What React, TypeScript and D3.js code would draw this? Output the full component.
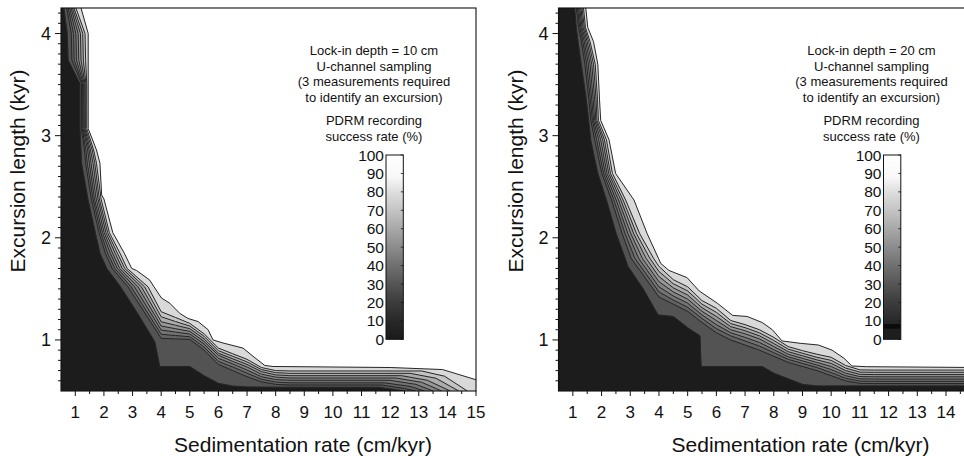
import React from 'react';
import * as d3 from 'd3';

const W = 964;
const H = 456;
const FONT = '"Liberation Sans", Arial, Helvetica, sans-serif';

// ---- axis ticks ----
const sedTicks = [1, 2, 3, 4, 5, 6, 7, 8, 9, 10, 11, 12, 13, 14, 15];
const sedMinorTicks = [1.5, 2.5, 3.5, 4.5, 5.5, 6.5, 7.5, 8.5, 9.5, 10.5, 11.5, 12.5, 13.5, 14.5];
const lengthTicks = [1, 2, 3, 4];
const lengthMinorTicks = [0.6, 0.7, 0.8, 0.9, 1.1, 1.2, 1.3, 1.4, 1.5, 1.6, 1.7, 1.8, 1.9, 2.1, 2.2, 2.3, 2.4, 2.5, 2.6, 2.7, 2.8, 2.9, 3.1, 3.2, 3.3, 3.4, 3.5, 3.6, 3.7, 3.8, 3.9, 4.1, 4.2];
const colorbarTicks = [0, 10, 20, 30, 40, 50, 60, 70, 80, 90, 100];

// ---- contour levels and fill grays (fill below each level) ----
const levels = [10, 20, 30, 40, 50, 60, 70, 80, 90];
const bandGrays = ['#1c1c1c', '#535353', '#636363', '#737373', '#848484', '#979797', '#acacac', '#c3c3c3', '#d9d9d9'];

// ---- colorbar stops [value, gray] ----
const leftColorStops: [number, string][] = [[0, '#1a1a1a'], [10, '#282828'], [20, '#3c3c3c'], [30, '#555555'], [40, '#707070'], [50, '#8c8c8c'], [60, '#a8a8a8'], [70, '#c4c4c4'], [80, '#dedede'], [88, '#f8f8f8'], [100, '#ffffff']];
const rightColorStops: [number, string][] = [[0, '#1e1e1e'], [5.5, '#1e1e1e'], [6, '#0b0b0b'], [8, '#0b0b0b'], [8.6, '#262626'], [20, '#3c3c3c'], [30, '#555555'], [40, '#707070'], [50, '#8c8c8c'], [60, '#a8a8a8'], [70, '#c4c4c4'], [80, '#dedede'], [88, '#f8f8f8'], [100, '#ffffff']];

// ---- texts ----
const leftLegend = ['Lock-in depth = 10 cm', 'U-channel sampling', '(3 measurements required', 'to identify an excursion)'];
const rightLegend = ['Lock-in depth = 20 cm', 'U-channel sampling', '(3 measurements required', 'to identify an excursion)'];
const colorbarTitle = ['PDRM recording', 'success rate (%)'];
const xTitle = 'Sedimentation rate (cm/kyr)';
const yTitle = 'Excursion length (kyr)';

// ---- left panel contour lines [sed rate, excursion length] ----
const left10 = [[0.60, 4.25], [0.72, 4.00], [0.75, 3.74], [1.16, 3.51], [1.16, 3.07], [1.20, 2.86], [1.22, 2.73], [1.44, 2.38], [1.70, 2.05], [1.86, 1.85], [2.10, 1.70], [2.58, 1.52], [3.20, 1.25], [3.78, 0.98], [3.95, 0.74], [5.00, 0.74], [5.50, 0.65], [6.00, 0.575], [6.50, 0.548], [7.00, 0.54], [8.00, 0.537], [11.6, 0.536], [12.5, 0.5]];
const left20 = [[0.70, 4.25], [0.86, 4.00], [0.88, 3.74], [1.22, 3.51], [1.21, 3.07], [1.32, 2.86], [1.36, 2.73], [1.56, 2.38], [1.83, 2.05], [2.05, 1.85], [2.29, 1.70], [2.84, 1.52], [4.0, 1.016], [4.5, 1.01], [5.0, 1.005], [5.5, 0.90], [6.0, 0.76], [6.5, 0.70], [7.0, 0.64], [7.5, 0.59], [8.0, 0.565], [8.5, 0.559], [11.7, 0.559], [12.5, 0.525], [12.9, 0.5]];
const left30 = [[0.75, 4.25], [0.94, 4.00], [0.96, 3.74], [1.25, 3.51], [1.24, 3.07], [1.37, 2.86], [1.42, 2.73], [1.62, 2.38], [1.89, 2.05], [2.13, 1.85], [2.38, 1.70], [2.95, 1.52], [4.0, 1.055], [4.5, 1.043], [5.0, 1.031], [5.5, 0.93], [6.0, 0.79], [6.5, 0.735], [7.0, 0.675], [7.5, 0.615], [8.0, 0.588], [8.5, 0.58], [11.8, 0.58], [12.7, 0.545], [13.2, 0.5]];
const left40 = [[0.80, 4.25], [1.02, 4.00], [1.04, 3.74], [1.28, 3.51], [1.27, 3.07], [1.43, 2.86], [1.49, 2.73], [1.67, 2.38], [1.95, 2.05], [2.22, 1.85], [2.47, 1.70], [3.07, 1.52], [4.0, 1.097], [4.5, 1.077], [5.0, 1.058], [5.5, 0.96], [6.0, 0.82], [6.5, 0.765], [7.0, 0.705], [7.5, 0.64], [8.0, 0.612], [8.5, 0.605], [12.0, 0.605], [12.9, 0.565], [13.5, 0.5]];
const left50 = [[0.85, 4.25], [1.10, 4.00], [1.12, 3.74], [1.31, 3.51], [1.30, 3.07], [1.48, 2.86], [1.55, 2.73], [1.73, 2.38], [2.01, 2.05], [2.30, 1.85], [2.55, 1.70], [3.19, 1.52], [4.0, 1.136], [4.5, 1.11], [5.0, 1.084], [5.5, 0.985], [6.0, 0.85], [6.5, 0.79], [7.0, 0.735], [7.5, 0.665], [8.0, 0.636], [8.5, 0.627], [12.2, 0.627], [13.1, 0.585], [13.8, 0.5]];
const left60 = [[0.90, 4.25], [1.18, 4.00], [1.20, 3.74], [1.34, 3.51], [1.33, 3.07], [1.53, 2.86], [1.62, 2.73], [1.79, 2.38], [2.07, 2.05], [2.39, 1.85], [2.64, 1.70], [3.31, 1.52], [4.0, 1.178], [4.5, 1.144], [5.0, 1.11], [5.5, 1.01], [6.0, 0.87], [6.5, 0.815], [7.0, 0.76], [7.5, 0.69], [8.0, 0.658], [8.5, 0.65], [12.4, 0.65], [13.3, 0.605], [14.1, 0.5]];
const left70 = [[0.95, 4.25], [1.26, 4.00], [1.28, 3.74], [1.37, 3.51], [1.36, 3.07], [1.59, 2.86], [1.68, 2.73], [1.84, 2.38], [2.13, 2.05], [2.47, 1.85], [2.73, 1.70], [3.42, 1.52], [4.0, 1.227], [4.5, 1.18], [5.0, 1.136], [5.5, 1.035], [6.0, 0.895], [6.5, 0.84], [7.0, 0.785], [7.5, 0.71], [8.0, 0.68], [8.5, 0.673], [12.7, 0.673], [13.6, 0.625], [14.4, 0.5]];
const left80 = [[1.02, 4.25], [1.34, 4.00], [1.36, 3.74], [1.40, 3.51], [1.40, 3.07], [1.64, 2.86], [1.74, 2.73], [1.90, 2.38], [2.19, 2.05], [2.56, 1.85], [2.81, 1.70], [3.54, 1.52], [4.0, 1.276], [4.5, 1.22], [5.0, 1.162], [5.5, 1.06], [6.0, 0.92], [6.5, 0.865], [7.0, 0.81], [7.5, 0.73], [8.0, 0.70], [8.5, 0.696], [13.1, 0.696], [13.9, 0.645], [14.7, 0.5]];
const left90 = [[1.20, 4.25], [1.45, 4.00], [1.45, 3.07], [1.74, 2.86], [1.86, 2.73], [1.92, 2.42], [2.00, 2.38], [2.31, 2.05], [2.71, 1.85], [2.97, 1.70], [3.14, 1.68], [3.60, 1.586], [3.75, 1.52], [4.01, 1.41], [4.30, 1.36], [4.65, 1.26], [4.94, 1.21], [5.29, 1.18], [5.64, 1.10], [5.81, 1.0], [6.16, 0.97], [6.86, 0.92], [7.21, 0.84], [7.62, 0.75], [7.91, 0.74], [12.0, 0.73], [13.83, 0.71], [14.3, 0.67], [15, 0.61]];

// ---- right panel contour lines ----
const right10 = [[1.06, 4.25], [1.12, 4.06], [1.18, 3.92], [1.29, 3.70], [1.47, 3.35], [1.55, 3.15], [1.62, 2.96], [1.87, 2.63], [2.17, 2.37], [2.51, 2.04], [2.82, 1.80], [2.92, 1.72], [3.45, 1.50], [3.97, 1.245], [4.5, 1.23], [5.0, 1.12], [5.43, 1.04], [5.47, 0.74], [7.6, 0.74], [8.0, 0.675], [8.5, 0.62], [9.0, 0.565], [9.5, 0.55], [15, 0.55]];
const right20 = [[1.12, 4.25], [1.20, 4.06], [1.30, 3.92], [1.42, 3.70], [1.56, 3.35], [1.63, 3.15], [1.76, 2.96], [2.01, 2.63], [2.35, 2.37], [2.72, 2.04], [3.03, 1.80], [4.0, 1.42], [4.5, 1.35], [5.0, 1.28], [5.5, 1.17], [6.0, 1.07], [6.5, 1.00], [7.0, 0.95], [7.5, 0.90], [8.0, 0.84], [8.5, 0.78], [9.0, 0.74], [9.5, 0.70], [10.0, 0.65], [10.5, 0.60], [11.0, 0.575], [11.5, 0.573], [15, 0.573]];
const right30 = [[1.16, 4.25], [1.24, 4.06], [1.35, 3.92], [1.48, 3.70], [1.61, 3.35], [1.68, 3.15], [1.83, 2.96], [2.07, 2.63], [2.43, 2.37], [2.82, 2.04], [3.16, 1.80], [4.0, 1.47], [4.5, 1.39], [5.0, 1.32], [5.5, 1.21], [6.0, 1.11], [6.5, 1.04], [7.0, 0.99], [7.5, 0.94], [8.0, 0.875], [8.5, 0.81], [9.0, 0.77], [9.5, 0.73], [10.0, 0.68], [10.5, 0.625], [11.0, 0.597], [11.5, 0.595], [15, 0.595]];
const right40 = [[1.20, 4.25], [1.28, 4.06], [1.40, 3.92], [1.54, 3.70], [1.66, 3.35], [1.72, 3.15], [1.90, 2.96], [2.13, 2.63], [2.51, 2.37], [2.92, 2.04], [3.29, 1.80], [4.0, 1.52], [4.5, 1.43], [5.0, 1.36], [5.5, 1.245], [6.0, 1.15], [6.5, 1.07], [7.0, 1.025], [7.5, 0.975], [8.0, 0.905], [8.5, 0.835], [9.0, 0.795], [9.5, 0.755], [10.0, 0.71], [10.5, 0.65], [11.0, 0.619], [11.5, 0.617], [15, 0.617]];
const right50 = [[1.24, 4.25], [1.32, 4.06], [1.45, 3.92], [1.60, 3.70], [1.71, 3.35], [1.76, 3.15], [1.97, 2.96], [2.19, 2.63], [2.59, 2.37], [3.02, 2.04], [3.42, 1.80], [4.0, 1.57], [4.5, 1.47], [5.0, 1.40], [5.5, 1.28], [6.0, 1.19], [6.5, 1.10], [7.0, 1.06], [7.5, 1.01], [8.0, 0.935], [8.5, 0.86], [9.0, 0.82], [9.5, 0.78], [10.0, 0.74], [10.5, 0.675], [11.0, 0.641], [11.5, 0.639], [15, 0.639]];
const right60 = [[1.28, 4.25], [1.36, 4.06], [1.50, 3.92], [1.66, 3.70], [1.76, 3.35], [1.80, 3.15], [2.04, 2.96], [2.25, 2.63], [2.67, 2.37], [3.12, 2.04], [3.55, 1.80], [4.0, 1.62], [4.5, 1.51], [5.0, 1.44], [5.5, 1.315], [6.0, 1.23], [6.5, 1.13], [7.0, 1.09], [7.5, 1.04], [8.0, 0.965], [8.5, 0.885], [9.0, 0.845], [9.5, 0.805], [10.0, 0.77], [10.5, 0.70], [11.0, 0.663], [11.5, 0.661], [15, 0.661]];
const right70 = [[1.32, 4.25], [1.40, 4.06], [1.55, 3.92], [1.72, 3.70], [1.81, 3.35], [1.84, 3.15], [2.10, 2.96], [2.31, 2.63], [2.75, 2.37], [3.22, 2.04], [3.68, 1.80], [4.0, 1.67], [4.5, 1.55], [5.0, 1.48], [5.5, 1.35], [6.0, 1.27], [6.5, 1.16], [7.0, 1.12], [7.5, 1.07], [8.0, 0.995], [8.5, 0.91], [9.0, 0.87], [9.5, 0.83], [10.0, 0.80], [10.5, 0.725], [11.0, 0.685], [11.5, 0.683], [15, 0.683]];
const right80 = [[1.37, 4.25], [1.44, 4.06], [1.60, 3.92], [1.78, 3.70], [1.86, 3.35], [1.89, 3.15], [2.17, 2.96], [2.38, 2.63], [2.84, 2.37], [3.33, 2.04], [3.81, 1.80], [4.0, 1.72], [4.5, 1.59], [5.0, 1.52], [5.5, 1.385], [6.0, 1.31], [6.5, 1.19], [7.0, 1.15], [7.5, 1.10], [8.0, 1.025], [8.5, 0.935], [9.0, 0.895], [9.5, 0.86], [10.0, 0.83], [10.5, 0.75], [11.0, 0.707], [11.5, 0.705], [15, 0.705]];
const right90 = [[1.45, 4.25], [1.52, 4.06], [1.72, 3.92], [1.87, 3.70], [1.93, 3.35], [1.97, 3.15], [2.26, 2.96], [2.49, 2.63], [3.13, 2.37], [3.59, 2.04], [3.98, 1.80], [4.06, 1.75], [4.35, 1.68], [4.98, 1.61], [5.40, 1.48], [6.03, 1.36], [6.57, 1.24], [7.07, 1.23], [7.6, 1.17], [7.95, 1.10], [8.29, 0.99], [8.92, 0.967], [9.56, 0.95], [10.03, 0.90], [10.45, 0.82], [10.72, 0.745], [11.24, 0.738], [15, 0.73]];

const leftContours = [left10, left20, left30, left40, left50, left60, left70, left80, left90];
const rightContours = [right10, right20, right30, right40, right50, right60, right70, right80, right90];

type Pt = number[];

interface PanelProps {
  id: string;
  xRange: [number, number];
  contours: Pt[][];
  legend: string[];
  stops: [number, string][];
}

const Y_TOP = 8;
const Y_BOTTOM = 391;

function Panel({ id, xRange, contours, legend, stops }: PanelProps) {
  const x = d3.scaleLinear().domain([0.5, 15]).range(xRange);
  const y = d3.scaleLinear().domain([0.5, 4.25]).range([Y_BOTTOM, Y_TOP]);
  const line = d3.line<Pt>().x((d) => x(d[0])).y((d) => y(d[1]));
  const [px0, px1] = xRange;

  const polys = contours.map((pts) => [[0.5, 4.25], ...pts, [pts[pts.length - 1][0], 0.5], [0.5, 0.5]] as Pt[]);

  const cbX = px0 + 325;
  const cbW = 17.3;
  const cb = d3.scaleLinear().domain([0, 100]).range([339.3, 155]);
  const legendCx = px0 + 313;
  const visibleLabels = sedTicks.filter((t) => x(t) + 9 <= W);

  return (
    <g>
      <defs>
        <clipPath id={`clip-${id}`}>
          <rect x={px0} y={Y_TOP} width={px1 - px0} height={Y_BOTTOM - Y_TOP} />
        </clipPath>
        <linearGradient id={`grad-${id}`} x1="0" y1="1" x2="0" y2="0">
          {stops.map(([v, c], i) => (
            <stop key={i} offset={v / 100} stopColor={c} />
          ))}
        </linearGradient>
      </defs>
      <g clipPath={`url(#clip-${id})`}>
        <rect x={px0} y={Y_TOP} width={px1 - px0} height={Y_BOTTOM - Y_TOP} fill="#ffffff" />
        {polys
          .map((p, i) => ({ p, i }))
          .reverse()
          .map(({ p, i }) => (
            <path key={`f${i}`} d={(line(p) || '') + 'Z'} fill={bandGrays[i]} stroke={bandGrays[i]} strokeWidth={0.3} />
          ))}
        {contours.map((pts, i) => (
          <path key={`l${i}`} d={line(pts) || ''} fill="none" stroke="#262626" strokeWidth={1} strokeLinejoin="round" />
        ))}
      </g>
      {/* frame */}
      <rect x={px0} y={Y_TOP} width={px1 - px0} height={Y_BOTTOM - Y_TOP} fill="none" stroke="#111" strokeWidth={1.1} />
      {/* x ticks */}
      {sedTicks.map((t) => (
        <line key={`xt${t}`} x1={x(t)} x2={x(t)} y1={Y_BOTTOM} y2={Y_BOTTOM + 5} stroke="#111" strokeWidth={1} />
      ))}
      {visibleLabels.map((t) => (
        <text key={`xl${t}`} x={x(t)} y={418} textAnchor="middle" fontSize={17} fontFamily={FONT} fill="#111">{t}</text>
      ))}
      {sedMinorTicks.map((t) => (
        <line key={`xm${t}`} x1={x(t)} x2={x(t)} y1={Y_BOTTOM} y2={Y_BOTTOM + 3} stroke="#111" strokeWidth={1} />
      ))}
      {/* y ticks */}
      {lengthTicks.map((t) => (
        <g key={`yt${t}`}>
          <line x1={px0 - 6} x2={px0} y1={y(t)} y2={y(t)} stroke="#111" strokeWidth={1} />
          <text x={px0 - 10} y={y(t) + 6.5} textAnchor="end" fontSize={18} fontFamily={FONT} fill="#111">{t}</text>
        </g>
      ))}
      {lengthMinorTicks.map((t) => (
        <line key={`ym${t}`} x1={px0 - 3} x2={px0} y1={y(t)} y2={y(t)} stroke="#111" strokeWidth={1} />
      ))}
      {/* axis titles */}
      <text x={px0 + 242} y={452} textAnchor="middle" fontSize={21} fontFamily={FONT} fill="#111">{xTitle}</text>
      <text transform={`translate(${px0 - 36},171) rotate(-90)`} textAnchor="middle" fontSize={21} fontFamily={FONT} fill="#111">{yTitle}</text>
      {/* legend text */}
      {legend.map((s, i) => (
        <text key={`lg${i}`} x={legendCx} y={[55, 70.5, 86, 101.5][i]} textAnchor="middle" fontSize={13} fontFamily={FONT} fill="#111">{s}</text>
      ))}
      {colorbarTitle.map((s, i) => (
        <text key={`ct${i}`} x={legendCx} y={[125, 140.5][i]} textAnchor="middle" fontSize={13} fontFamily={FONT} fill="#111">{s}</text>
      ))}
      {/* colorbar */}
      <rect x={cbX} y={cb(100)} width={cbW} height={cb(0) - cb(100)} fill={`url(#grad-${id})`} stroke="#111" strokeWidth={1} />
      {colorbarTicks.map((t) => (
        <g key={`cb${t}`}>
          <line x1={cbX + cbW - 2.5} x2={cbX + cbW} y1={cb(t)} y2={cb(t)} stroke="#111" strokeWidth={0.8} />
          <text x={cbX - 2} y={cb(t) + 5.5} textAnchor="end" fontSize={15.5} fontFamily={FONT} fill="#111">{t}</text>
        </g>
      ))}
    </g>
  );
}

export default function App() {
  return (
    <svg width={W} height={H} viewBox={`0 0 ${W} ${H}`} style={{ position: 'absolute', left: 0, top: 0, background: '#fff' }}>
      <rect x={0} y={0} width={W} height={H} fill="#ffffff" />
      <Panel id="left" xRange={[61, 476]} contours={leftContours} legend={leftLegend} stops={leftColorStops} />
      <Panel id="right" xRange={[558.5, 974.7]} contours={rightContours} legend={rightLegend} stops={rightColorStops} />
    </svg>
  );
}
